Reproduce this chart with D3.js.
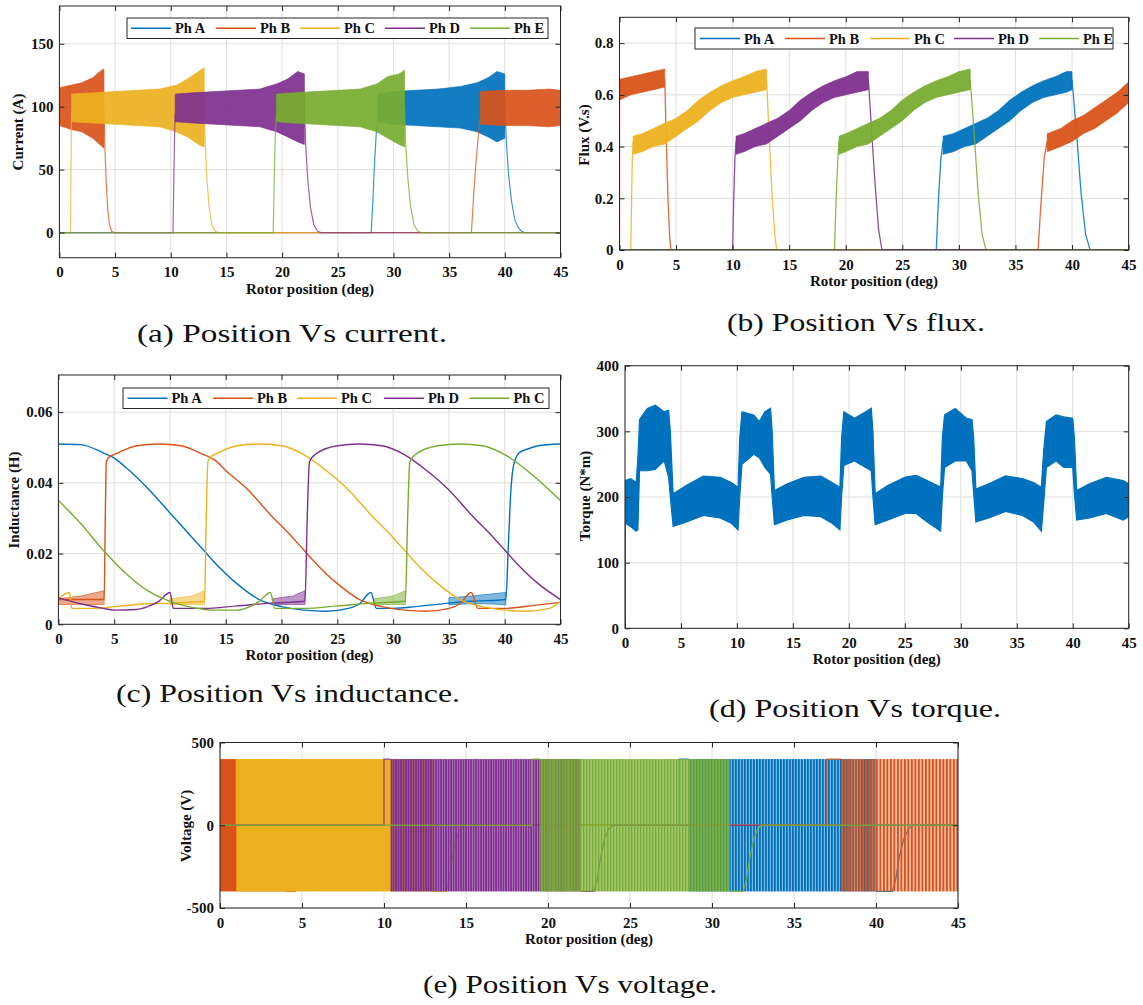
<!DOCTYPE html>
<html><head><meta charset="utf-8">
<script src="https://cdn.jsdelivr.net/npm/d3@7"></script>
<style>body{margin:0;background:#fff} svg{display:block}</style>
</head><body><svg id="c" width="1143" height="1005"></svg>
<script>
// ---------------- DATA ----------------
const phaseNames = ["Ph A","Ph B","Ph C","Ph D","Ph E"];
const inductanceLegend = ["Ph A","Ph B","Ph C","Ph D","Ph C"];
const phaseColors = ["#0072BD","#D95319","#EDB120","#7E2F8E","#77AC30"];
const xTicks = [0,5,10,15,20,25,30,35,40,45];
const currentTicks = [0,50,100,150];
const fluxTicks = [0,0.2,0.4,0.6,0.8];
const inductanceTicks = [0,0.02,0.04,0.06];
const torqueTicks = [0,100,200,300,400];
const voltageTicks = [-500,0,500];
const captions = ["(a) Position Vs current.","(b) Position Vs flux.","(c) Position Vs inductance.","(d) Position Vs torque.","(e) Position Vs voltage."];

// Current (A): traces [deg, A], bands [deg, low, high]
const curA_trace = [[0,0],[28.0,0],[28.15,25],[28.3,55],[28.45,78],[28.6,92],null,[40.0,100],[40.15,70],[40.35,45],[40.6,25],[40.9,10],[41.2,4],[41.5,1],[41.8,0],[45,0]];
const curA_band = [[28.6,88,110],[30,86,112],[32,85,113],[34,84,114],[36,83,116],[37.5,80,119],[38.5,76,123],[39.3,72,128],[40.0,75,126]];
const curB_trace = [[0,0],[0,100],null,[4.0,100],[4.08,70],[4.2,40],[4.35,18],[4.5,6],[4.7,1],[4.9,0],[37.0,0],[37.2,30],[37.45,60],[37.65,80],[37.8,92]];
const curB_band = [[0,85,115],[1,82,117],[2,80,119],[3,75,123],[3.5,71,127],[4.0,67,130],null,[37.8,86,112],[40,85,113],[42,85,113],[44,84,114],[45,85,113]];
const curC_trace = [[0,0],[1.0,0],[1.04,50],[1.08,85],[1.1,95],null,[13.0,100],[13.1,70],[13.25,42],[13.45,20],[13.7,6],[14.0,1],[14.3,0],[45,0]];
const curC_band = [[1.1,88,110],[3,87,111],[5,86,112],[7,85,113],[9,84,114],[10.5,80,117],[11.5,76,122],[12.5,70,128],[13.0,68,131]];
const curD_trace = [[0,0],[10.2,0],[10.28,45],[10.35,80],[10.4,95],null,[22.0,100],[22.12,70],[22.3,42],[22.55,20],[22.85,6],[23.2,1],[23.5,0],[45,0]];
const curD_band = [[10.4,88,110],[12,87,111],[14,86,112],[16,85,113],[18,84,114],[19.5,80,118],[20.5,76,122],[21.4,72,128],[22.0,70,126]];
const curE_trace = [[0,0],[19.2,0],[19.3,45],[19.4,80],[19.5,95],null,[31.0,100],[31.1,70],[31.3,42],[31.55,20],[31.85,6],[32.2,1],[32.5,0],[45,0]];
const curE_band = [[19.5,88,110],[21,87,111],[23,86,112],[25,85,113],[27,84,114],[28.5,80,118],[29.5,75,124],[30.5,70,126],[31.0,68,129]];

// Flux (V.s)
const fluxA_trace = [[0,0],[28.0,0],[28.2,0.2],[28.4,0.35],[28.6,0.42],null,[40.0,0.66],[40.4,0.45],[40.8,0.22],[41.2,0.06],[41.6,0],[45,0]];
const fluxA_band = [[28.6,0.37,0.44],[29.5,0.38,0.45],[30.5,0.40,0.47],[31.5,0.41,0.49],[32.5,0.44,0.51],[33.5,0.47,0.54],[34.5,0.50,0.58],[35.5,0.54,0.61],[36.5,0.57,0.635],[37.5,0.59,0.655],[38.5,0.60,0.67],[39.5,0.61,0.69],[40.0,0.62,0.69]];
const fluxB_trace = [[0,0],[0,0.6],null,[4.0,0.66],[4.15,0.4],[4.3,0.18],[4.45,0.04],[4.55,0],[37.0,0],[37.25,0.18],[37.55,0.36],[37.8,0.42]];
const fluxB_band = [[0,0.58,0.66],[1,0.60,0.67],[2,0.61,0.68],[3,0.62,0.69],[4.0,0.63,0.70],null,[37.8,0.38,0.45],[39,0.40,0.47],[40,0.42,0.50],[41,0.45,0.52],[42,0.47,0.55],[43,0.50,0.58],[44,0.53,0.61],[45,0.57,0.65]];
const fluxC_trace = [[0,0],[1.0,0],[1.07,0.2],[1.13,0.35],[1.2,0.42],null,[13.0,0.66],[13.25,0.42],[13.5,0.2],[13.75,0.05],[13.9,0],[45,0]];
const fluxC_band = [[1.2,0.37,0.44],[2,0.38,0.45],[3,0.40,0.47],[4,0.41,0.49],[5,0.44,0.51],[6,0.47,0.54],[7,0.50,0.58],[8,0.54,0.61],[9,0.57,0.635],[10,0.59,0.655],[11,0.60,0.67],[12,0.61,0.69],[13.0,0.62,0.70]];
const fluxD_trace = [[0,0],[10.0,0],[10.1,0.2],[10.2,0.35],[10.3,0.42],null,[22.0,0.66],[22.3,0.45],[22.6,0.25],[22.9,0.08],[23.2,0],[45,0]];
const fluxD_band = [[10.3,0.37,0.44],[11,0.38,0.45],[12,0.40,0.47],[13,0.41,0.49],[14,0.44,0.51],[15,0.47,0.54],[16,0.50,0.58],[17,0.54,0.61],[18,0.57,0.635],[19,0.59,0.655],[20,0.60,0.67],[21,0.61,0.69],[22.0,0.62,0.69]];
const fluxE_trace = [[0,0],[19.0,0],[19.15,0.2],[19.3,0.35],[19.4,0.42],null,[31.0,0.66],[31.35,0.45],[31.7,0.22],[32.05,0.06],[32.4,0],[45,0]];
const fluxE_band = [[19.4,0.37,0.44],[20,0.38,0.45],[21,0.40,0.47],[22,0.41,0.49],[23,0.44,0.51],[24,0.47,0.54],[25,0.50,0.58],[26,0.54,0.61],[27,0.57,0.635],[28,0.59,0.655],[29,0.60,0.67],[30,0.61,0.69],[31.0,0.62,0.70]];

// Inductance (H)
const indA = [[0,0.051],[2,0.0508],[4,0.0485],[5,0.047],[6,0.0445],[8,0.0385],[10,0.0315],[12,0.0245],[13,0.021],[14,0.0175],[16,0.0115],[18,0.007],[20,0.005],[22,0.004],[24,0.0037],[26,0.0045],[27,0.0058],[28,0.009],[28.5,0.0045],[30,0.0045],[32,0.005],[35,0.006],[37,0.0065],[40.1,0.007],[40.3,0.02],[40.5,0.035],[40.8,0.045],[41.3,0.0485],[42,0.0495],[43,0.0505],[45,0.051]];
const indB = [[0,0.035],[0.02,0.007],[4.1,0.007],[4.2,0.03],[4.3,0.046],[4.6,0.0475],[5,0.048],[7,0.0505],[9,0.051],[11,0.0505],[13,0.048],[14,0.0465],[15,0.0435],[17,0.038],[19,0.031],[21,0.0245],[22,0.021],[23,0.0175],[25,0.0115],[27,0.007],[29,0.005],[31,0.004],[33,0.0037],[35,0.0045],[36,0.0058],[37,0.009],[37.6,0.0045],[40,0.0045],[43,0.0055],[45,0.0062]];
const indC = [[0,0.0072],[1.0,0.009],[1.2,0.0045],[3,0.0045],[5,0.005],[8,0.0058],[10,0.006],[13.1,0.0065],[13.25,0.03],[13.4,0.046],[13.7,0.0475],[14,0.048],[16,0.0505],[18,0.051],[20,0.0505],[22,0.048],[24,0.0435],[26,0.038],[28,0.031],[30,0.0245],[31,0.021],[32,0.0175],[34,0.0115],[36,0.007],[38,0.005],[40,0.004],[42,0.0037],[44,0.0045],[45,0.0065]];
const indD = [[0,0.0075],[2,0.0058],[4,0.0045],[5,0.004],[7,0.0042],[8,0.005],[9,0.0065],[10,0.009],[10.3,0.0045],[13,0.0045],[16,0.0052],[19,0.006],[22.1,0.0065],[22.3,0.03],[22.5,0.046],[23,0.048],[25,0.0505],[27,0.051],[29,0.0505],[31,0.048],[33,0.0435],[35,0.038],[37,0.031],[39,0.0245],[40,0.021],[41,0.0175],[43,0.0115],[45,0.007]];
const indE = [[0,0.035],[2,0.0285],[4,0.021],[6,0.0145],[8,0.0095],[10,0.0065],[12,0.0048],[14,0.004],[16,0.004],[17,0.0048],[18,0.0065],[19,0.009],[19.4,0.0045],[22,0.0045],[25,0.0052],[28,0.006],[31.1,0.0065],[31.3,0.03],[31.5,0.046],[32,0.048],[34,0.0505],[36,0.051],[38,0.0505],[40,0.048],[42,0.0435],[44,0.038],[45,0.035]];
const indA_ripple = [[35,0.0055,0.0075],[37,0.0058,0.008],[38.5,0.0058,0.0085],[40.1,0.0055,0.009]];
const indB_ripple = [[0,0.0056,0.0072],[2,0.0056,0.008],[4.1,0.0056,0.0095]];
const indC_ripple = [[10,0.0056,0.0072],[12,0.0056,0.008],[13.1,0.0056,0.0095]];
const indD_ripple = [[19.2,0.0056,0.0072],[21,0.0056,0.008],[22.1,0.0056,0.0095]];
const indE_ripple = [[28.3,0.0056,0.0072],[30,0.0056,0.008],[31.1,0.0056,0.0095]];

// Torque (N*m): start spike and ripple envelope [deg, low, high]
const torqueStart = [[0,0],[0,225]];
const torqueBand = [[0.03,160,225],[0.5,155,228],[1.0,148,222],[1.15,150,260],[1.3,240,318],[2,240,335],[2.7,242,340],[3.5,255,330],[3.9,230,332],[4.05,200,300],[4.3,155,205],
[5.5,162,218],[7,172,232],[8.5,168,230],[9.5,160,222],[10.1,150,215],[10.25,200,290],[10.45,250,330],[11.5,265,325],[12,260,315],[12.5,245,330],[13.0,235,335],[13.15,200,300],[13.35,158,210],
[14.5,165,220],[16,172,230],[17.5,170,232],[18.5,160,222],[19.2,150,215],[19.35,200,290],[19.55,248,330],[20.5,255,320],[21.5,245,330],[22.0,240,335],[22.15,200,300],[22.35,158,205],
[23.5,165,218],[25,175,230],[26,175,233],[27,162,225],[28.2,148,215],[28.35,200,290],[28.55,245,325],[29.5,255,335],[30.5,255,320],[31.0,240,318],[31.15,205,290],[31.35,162,212],
[32.5,168,220],[34,178,232],[35.5,172,228],[36.5,162,222],[37.2,148,215],[37.4,190,270],[37.65,245,315],[38.5,255,325],[39.2,245,322],[40.0,245,320],[40.15,205,290],[40.35,165,210],
[41.5,168,220],[43,175,230],[44.5,165,225],[45,170,220]];

// Voltage (V): PWM chopping intervals and phase lines
const dcVoltage = [400, -400];
const pwmPhase = [0, 1, 2, 3, 4, 1];
const pwmStart = [28.6, 0, 1.0, 10.4, 19.5, 37.9];
const pwmEnd = [40.0, 4.0, 13.0, 22.0, 31.1, 45];
const pwmDensity = [0.6, 1, 1, 0.7, 0.65, 0.5];
const voltA = [[0,0],[28.0,0],[28.0,400],[28.6,400],null,[40.0,-400],[41.0,-400],[41.2,-330],[41.4,-200],[41.7,-80],[42.0,-20],[42.3,0],[45,0]];
const voltB = [[4.0,-400],[4.6,-400],[4.8,-250],[5.1,-60],[5.4,0],[37.0,0],[37.0,400],[37.9,400]];
const voltC = [[0,0],[1.0,0],[1.0,400],null,[13.0,-400],[13.8,-400],[14.0,-300],[14.3,-120],[14.6,-30],[14.9,0],[45,0]];
const voltD = [[0,0],[10.0,0],[10.0,400],[10.4,400],null,[22.0,-400],[22.8,-400],[23.0,-330],[23.2,-200],[23.45,-80],[23.7,-20],[24.0,0],[45,0]];
const voltE = [[0,0],[19.0,0],[19.0,400],[19.5,400],null,[31.1,-400],[31.9,-400],[32.1,-330],[32.3,-200],[32.55,-80],[32.8,-20],[33.0,0],[45,0]];

// ---------------- DRAW ----------------
const FONT = "'Liberation Serif','Times New Roman',serif";
const svg = d3.select("#c");
const defs = svg.append("defs");

function makePanel(id, cfg) {
  const x = d3.scaleLinear().domain([0,45]).range([cfg.l, cfg.r]);
  const y = d3.scaleLinear().domain(cfg.yDom).range([cfg.b, cfg.t]);
  const g = svg.append("g");
  g.append("g").selectAll("line").data(xTicks).join("line")
    .attr("x1", d => x(d)).attr("x2", d => x(d)).attr("y1", cfg.t).attr("y2", cfg.b)
    .attr("stroke", "#dedede").attr("stroke-width", 1);
  g.append("g").selectAll("line").data(cfg.yTicks).join("line")
    .attr("y1", d => y(d)).attr("y2", d => y(d)).attr("x1", cfg.l).attr("x2", cfg.r)
    .attr("stroke", "#dedede").attr("stroke-width", 1);
  defs.append("clipPath").attr("id", "clip-" + id).append("rect")
    .attr("x", cfg.l).attr("y", cfg.t).attr("width", cfg.r - cfg.l).attr("height", cfg.b - cfg.t);
  const plot = g.append("g").attr("clip-path", `url(#clip-${id})`);
  return {g, plot, x, y, cfg};
}

function finishPanel(p) {
  const {g, x, y, cfg} = p;
  const styleAxis = s => {
    s.select(".domain").remove();
    s.selectAll(".tick line").attr("stroke", "#262626");
    s.selectAll("text").attr("font-family", FONT).attr("font-weight", "bold")
      .attr("font-size", 15).attr("fill", "#111");
  };
  g.append("g").attr("transform", `translate(0,${cfg.b})`)
    .call(d3.axisBottom(x).tickValues(xTicks).tickSize(-5).tickPadding(9).tickFormat(d3.format("d"))).call(styleAxis);
  g.append("g").attr("transform", `translate(0,${cfg.t})`)
    .call(d3.axisTop(x).tickValues(xTicks).tickSize(-5).tickFormat("")).call(styleAxis);
  g.append("g").attr("transform", `translate(${cfg.l},0)`)
    .call(d3.axisLeft(y).tickValues(cfg.yTicks).tickSize(-5).tickPadding(6).tickFormat(cfg.yFmt)).call(styleAxis);
  g.append("g").attr("transform", `translate(${cfg.r},0)`)
    .call(d3.axisRight(y).tickValues(cfg.yTicks).tickSize(-5).tickFormat("")).call(styleAxis);
  g.append("rect").attr("x", cfg.l).attr("y", cfg.t).attr("width", cfg.r - cfg.l).attr("height", cfg.b - cfg.t)
    .attr("fill", "none").attr("stroke", "#262626").attr("stroke-width", 1);
  g.append("text").attr("x", (cfg.l + cfg.r) / 2).attr("y", cfg.b + 36).attr("text-anchor", "middle")
    .attr("font-family", FONT).attr("font-weight", "bold").attr("font-size", 15).attr("fill", "#111")
    .text("Rotor position (deg)");
  g.append("text").attr("transform", `translate(${cfg.yLabX},${cfg.yLabC}) rotate(-90)`).attr("text-anchor", "middle")
    .attr("font-family", FONT).attr("font-weight", "bold").attr("font-size", 15).attr("fill", "#111")
    .text(cfg.yLabel);
}

function legend(p, names, box, starts) {
  const g = p.g.append("g");
  g.append("rect").attr("x", box[0]).attr("y", box[1]).attr("width", box[2]).attr("height", box[3])
    .attr("fill", "#fff").attr("stroke", "#262626").attr("stroke-width", 1);
  const cy = box[1] + box[3] / 2;
  names.forEach((n, i) => {
    g.append("line").attr("x1", starts[i]).attr("x2", starts[i] + 40).attr("y1", cy).attr("y2", cy)
      .attr("stroke", phaseColors[i]).attr("stroke-width", 1.5);
    g.append("text").attr("x", starts[i] + 44).attr("y", cy + 5).attr("font-family", FONT)
      .attr("font-weight", "bold").attr("font-size", 14.5).attr("fill", "#111").text(n);
  });
}

function drawBandsAndTraces(p, bands, traces, bandOpacity, traceWidth, traceOpacity) {
  const {plot, x, y} = p;
  const area = d3.area().defined(d => d !== null).x(d => x(d[0])).y0(d => y(d[1])).y1(d => y(d[2]));
  const line = d3.line().defined(d => d !== null).x(d => x(d[0])).y(d => y(d[1]));
  bands.forEach((b, i) => {
    plot.append("path").attr("d", area(b)).attr("fill", phaseColors[i]).attr("fill-opacity", bandOpacity)
      .attr("stroke", phaseColors[i]).attr("stroke-width", 0.8).attr("stroke-opacity", 0.8);
    plot.append("path").attr("d", line(traces[i])).attr("fill", "none").attr("stroke", phaseColors[i])
      .attr("stroke-width", traceWidth).attr("stroke-opacity", traceOpacity);
  });
}

const fmt1 = d => d === 0 ? "0" : d3.format(".1f")(d);
const fmt2 = d => d === 0 ? "0" : d3.format(".2f")(d);

// (a) current
const pa = makePanel("a", {l:59.4, r:560.5, t:6, b:257.7, yDom:[-20,180], yTicks:currentTicks});
drawBandsAndTraces(pa, [curA_band, curB_band, curC_band, curD_band, curE_band],
  [curA_trace, curB_trace, curC_trace, curD_trace, curE_trace], 0.92, 1.2, 0.75);
Object.assign(pa.cfg, {yLabX:23, yLabC:132, yLabel:"Current (A)", yFmt:d3.format("d")});
finishPanel(pa);
legend(pa, phaseNames, [127, 18, 421, 20.5], [131, 216, 300, 385, 470]);

// (b) flux
const pb = makePanel("b", {l:619.5, r:1128.6, t:17.3, b:250, yDom:[0,0.9], yTicks:fluxTicks});
drawBandsAndTraces(pb, [fluxA_band, fluxB_band, fluxC_band, fluxD_band, fluxE_band],
  [fluxA_trace, fluxB_trace, fluxC_trace, fluxD_trace, fluxE_trace], 0.95, 1.3, 0.85);
Object.assign(pb.cfg, {yLabX:589, yLabC:135, yLabel:"Flux (V.s)", yFmt:fmt1});
finishPanel(pb);
legend(pb, phaseNames, [695, 28, 418, 21], [700, 785, 870, 954, 1039]);

// (c) inductance
const pc = makePanel("c", {l:58.4, r:560.5, t:375, b:624.3, yDom:[0,0.0705], yTicks:inductanceTicks});
(function(){
  const {plot, x, y} = pc;
  const area = d3.area().x(d => x(d[0])).y0(d => y(d[1])).y1(d => y(d[2]));
  const line = d3.line().x(d => x(d[0])).y(d => y(d[1])).curve(d3.curveMonotoneX);
  const ripples = [indA_ripple, indB_ripple, indC_ripple, indD_ripple, indE_ripple];
  const lines = [indA, indB, indC, indD, indE];
  lines.forEach((l, i) => {
    plot.append("path").attr("d", area(ripples[i])).attr("fill", phaseColors[i]).attr("fill-opacity", 0.5)
      .attr("stroke", phaseColors[i]).attr("stroke-width", 0.6);
    plot.append("path").attr("d", line(l)).attr("fill", "none").attr("stroke", phaseColors[i]).attr("stroke-width", 1.4);
  });
})();
Object.assign(pc.cfg, {yLabX:19, yLabC:500, yLabel:"Inductance (H)", yFmt:fmt2});
finishPanel(pc);
legend(pc, inductanceLegend, [123, 388, 426, 20.5], [127.5, 213, 297, 384, 469.5]);

// (d) torque
const pd = makePanel("d", {l:625, r:1128.7, t:365.7, b:628.3, yDom:[0,400], yTicks:torqueTicks});
(function(){
  const {plot, x, y} = pd;
  const area = d3.area().x(d => x(d[0])).y0(d => y(d[1])).y1(d => y(d[2]));
  const line = d3.line().x(d => x(d[0])).y(d => y(d[1]));
  plot.append("path").attr("d", area(torqueBand)).attr("fill", phaseColors[0])
    .attr("stroke", phaseColors[0]).attr("stroke-width", 1.2);
  plot.append("path").attr("d", line(torqueStart)).attr("fill", "none").attr("stroke", phaseColors[0]).attr("stroke-width", 2);
})();
Object.assign(pd.cfg, {yLabX:590, yLabC:496, yLabel:"Torque (N*m)", yFmt:d3.format("d")});
finishPanel(pd);

// (e) voltage: each phase drawn in order (chopping blocks, then its line)
const pe = makePanel("e", {l:220, r:958, t:742.5, b:908, yDom:[-500,500], yTicks:voltageTicks});
(function(){
  const {plot, x, y} = pe;
  const periods = [3, 3.5, 3, 2.5, 3];
  const bgOp = [0.5, 0.4, 1, 0.55, 0.5];
  const line = d3.line().defined(d => d !== null).x(d => x(d[0])).y(d => y(d[1]));
  const volts = [voltA, voltB, voltC, voltD, voltE];
  phaseColors.forEach((col, ph) => {
    pwmPhase.forEach((pp, k) => {
      if (pp !== ph) return;
      const id = "pwm" + k;
      const per = periods[ph];
      const pat = defs.append("pattern").attr("id", id).attr("patternUnits", "userSpaceOnUse")
        .attr("width", per).attr("height", 10).attr("x", k * 0.9);
      pat.append("rect").attr("width", per).attr("height", 10).attr("fill", col)
        .attr("fill-opacity", pwmDensity[k] >= 1 ? 1 : bgOp[ph]);
      pat.append("rect").attr("width", per * pwmDensity[k]).attr("height", 10).attr("fill", col);
      plot.append("rect").attr("x", x(pwmStart[k])).attr("width", x(pwmEnd[k]) - x(pwmStart[k]))
        .attr("y", y(dcVoltage[0])).attr("height", y(dcVoltage[1]) - y(dcVoltage[0]))
        .attr("fill", `url(#${id})`);
    });
    plot.append("path").attr("d", line(volts[ph])).attr("fill", "none").attr("stroke", col)
      .attr("stroke-width", 1.3).attr("stroke-opacity", 0.85);
  });
})();
Object.assign(pe.cfg, {yLabX:191, yLabC:826, yLabel:"Voltage (V)", yFmt:d => String(d)});
finishPanel(pe);

// captions
const capPos = [[137,342,310],[727,331,258],[116,702,344],[709,717,292],[423,993,294]];
captions.forEach((c, i) => {
  svg.append("text").attr("x", capPos[i][0]).attr("y", capPos[i][1])
    .attr("textLength", capPos[i][2]).attr("lengthAdjust", "spacingAndGlyphs")
    .attr("font-family", FONT).attr("font-size", 25).attr("fill", "#111").text(c);
});
</script>
</body></html>
